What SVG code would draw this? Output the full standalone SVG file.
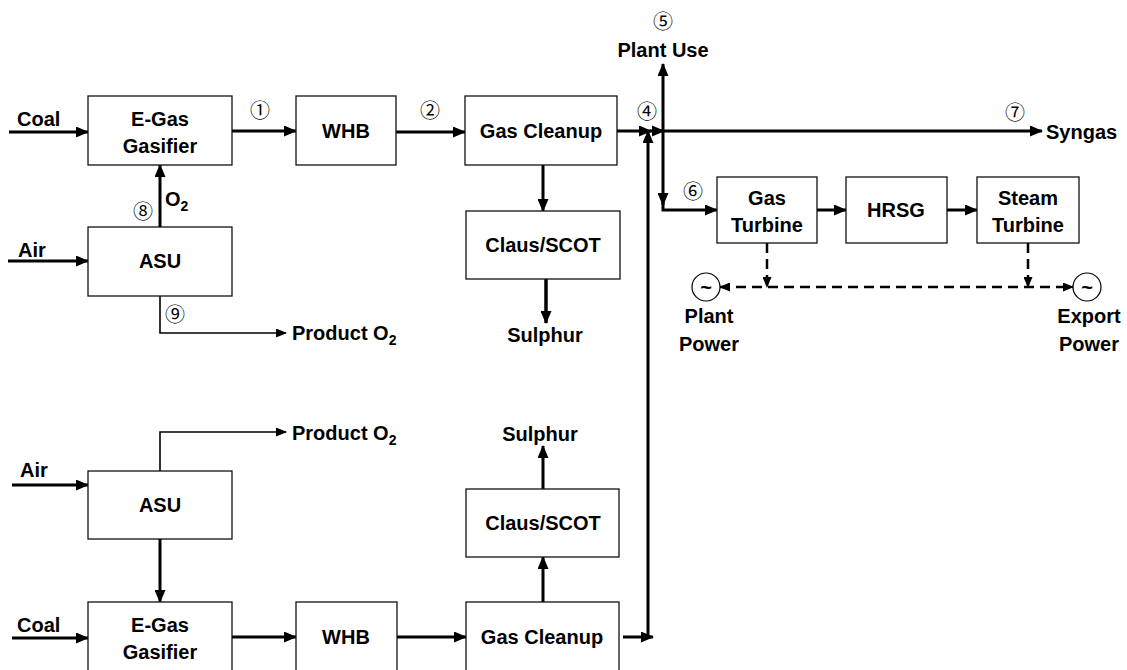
<svg xmlns="http://www.w3.org/2000/svg" width="1127" height="670" viewBox="0 0 1127 670">
<style>
.box{fill:#fff;stroke:#111;stroke-width:1.3}
.t{font-family:"Liberation Sans",Arial,sans-serif;font-weight:bold;font-size:20px;fill:#000;text-anchor:middle}
.l{font-family:"Liberation Sans",Arial,sans-serif;font-weight:bold;font-size:20px;fill:#000}
.n{font-family:"Noto Sans CJK JP","Noto Sans CJK SC",sans-serif;font-size:20px;fill:#000;text-anchor:middle}
.a{fill:none;stroke:#000;stroke-width:3}
.th{fill:none;stroke:#000;stroke-width:1.6}
.d{fill:none;stroke:#000;stroke-width:2.5;stroke-dasharray:10 6}
.g{fill:#fff;stroke:#000;stroke-width:1.2}
</style>
<defs>
<marker id="ah" markerUnits="userSpaceOnUse" markerWidth="13" markerHeight="11" refX="12" refY="5.5" orient="auto-start-reverse" viewBox="0 0 13 11"><path d="M0,0 L13,5.5 L0,11 z" fill="#000"/></marker>
<marker id="as" markerUnits="userSpaceOnUse" markerWidth="11" markerHeight="9" refX="10" refY="4.5" orient="auto-start-reverse" viewBox="0 0 11 9"><path d="M0,0 L11,4.5 L0,9 z" fill="#000"/></marker>
</defs>

<g id="connectors">
<line class="a" x1="9" y1="132" x2="88" y2="132" marker-end="url(#ah)"/>
<line class="a" x1="232" y1="131" x2="296" y2="131" marker-end="url(#ah)"/>
<line class="a" x1="396" y1="132" x2="465" y2="132" marker-end="url(#ah)"/>
<line class="a" x1="617" y1="131" x2="651" y2="131" marker-end="url(#ah)"/>
<line class="a" x1="650" y1="131" x2="1042" y2="131" marker-end="url(#ah)"/>
<path d="M652,125.5 L665,131 L652,136.5 z" fill="#000"/>
<line class="a" x1="663" y1="131" x2="663" y2="64" marker-end="url(#ah)"/>
<line class="a" x1="663" y1="131" x2="663" y2="205" marker-end="url(#ah)"/>
<path class="a" d="M663,200 V210 H717" marker-end="url(#ah)"/>
<line class="a" x1="817" y1="210" x2="846" y2="210" marker-end="url(#ah)"/>
<line class="a" x1="947" y1="210" x2="977" y2="210" marker-end="url(#ah)"/>
<line class="a" x1="543" y1="165" x2="543" y2="211" marker-end="url(#ah)"/>
<line class="a" style="stroke-width:3.5" x1="546" y1="279" x2="546" y2="323" marker-end="url(#ah)"/>
<line class="a" x1="160" y1="227" x2="160" y2="165" marker-end="url(#ah)"/>
<line class="a" x1="8" y1="261" x2="88" y2="261" marker-end="url(#ah)"/>
<path class="th" d="M160,296 V333 H286" marker-end="url(#as)"/>
<path class="th" d="M160,471 V432 H286" marker-end="url(#as)"/>
<line class="a" x1="12" y1="485" x2="88" y2="485" marker-end="url(#ah)"/>
<line class="a" x1="160" y1="539" x2="160" y2="602" marker-end="url(#ah)"/>
<line class="a" x1="12" y1="638" x2="88" y2="638" marker-end="url(#ah)"/>
<line class="a" x1="232" y1="637" x2="296" y2="637" marker-end="url(#ah)"/>
<line class="a" x1="397" y1="637" x2="466" y2="637" marker-end="url(#ah)"/>
<line class="a" x1="543" y1="602" x2="543" y2="557" marker-end="url(#ah)"/>
<line class="a" x1="543" y1="489" x2="543" y2="446" marker-end="url(#ah)"/>
<line class="a" x1="623" y1="637" x2="653" y2="637" marker-end="url(#ah)"/>
<line class="a" x1="648" y1="639" x2="648" y2="131" marker-end="url(#ah)"/>
<line class="d" x1="767" y1="243" x2="767" y2="287" marker-end="url(#as)"/>
<line class="d" x1="1028" y1="243" x2="1028" y2="287" marker-end="url(#as)"/>
<line class="d" x1="720" y1="287" x2="1073" y2="287" marker-start="url(#as)" marker-end="url(#as)"/>
</g>

<g id="gasifier1"><rect class="box" x="88" y="96" width="144" height="69"/><text class="t" x="160" y="126">E-Gas</text><text class="t" x="160" y="153">Gasifier</text></g>
<g id="whb1"><rect class="box" x="296" y="96" width="100" height="69"/><text class="t" x="346" y="138">WHB</text></g>
<g id="cleanup1"><rect class="box" x="465" y="96" width="152" height="69"/><text class="t" x="541" y="138">Gas Cleanup</text></g>
<g id="claus1"><rect class="box" x="466" y="211" width="154" height="68"/><text class="t" x="543" y="252">Claus/SCOT</text></g>
<g id="asu1"><rect class="box" x="88" y="227" width="144" height="69"/><text class="t" x="160" y="268">ASU</text></g>
<g id="gt"><rect class="box" x="717" y="177" width="100" height="66"/><text class="t" x="767" y="205">Gas</text><text class="t" x="767" y="232">Turbine</text></g>
<g id="hrsg"><rect class="box" x="846" y="177" width="101" height="66"/><text class="t" x="896" y="217">HRSG</text></g>
<g id="st"><rect class="box" x="977" y="177" width="102" height="66"/><text class="t" x="1028" y="205">Steam</text><text class="t" x="1028" y="232">Turbine</text></g>
<g id="gen1"><circle class="g" cx="706" cy="287" r="14"/><text class="t" x="706" y="294">~</text></g>
<g id="gen2"><circle class="g" cx="1087" cy="287" r="14"/><text class="t" x="1087" y="294">~</text></g>

<g id="asu2"><rect class="box" x="88" y="471" width="144" height="68"/><text class="t" x="160" y="512">ASU</text></g>
<g id="gasifier2"><rect class="box" x="88" y="602" width="144" height="70"/><text class="t" x="160" y="632">E-Gas</text><text class="t" x="160" y="659">Gasifier</text></g>
<g id="whb2"><rect class="box" x="296" y="602" width="101" height="70"/><text class="t" x="346" y="644">WHB</text></g>
<g id="cleanup2"><rect class="box" x="466" y="602" width="153" height="70"/><text class="t" x="542" y="644">Gas Cleanup</text></g>
<g id="claus2"><rect class="box" x="466" y="489" width="153" height="68"/><text class="t" x="543" y="530">Claus/SCOT</text></g>

<g id="labels">
<text class="l" x="17" y="126">Coal</text>
<text class="l" x="18" y="257">Air</text>
<text class="l" x="165" y="206">O<tspan font-size="14" dy="5">2</tspan></text>
<text class="l" x="292" y="340">Product O<tspan font-size="14" dy="5">2</tspan></text>
<text class="t" x="545" y="342">Sulphur</text>
<text class="t" x="663" y="57">Plant Use</text>
<text class="l" x="1046" y="139">Syngas</text>
<text class="t" x="709" y="323">Plant</text>
<text class="t" x="709" y="351">Power</text>
<text class="t" x="1089" y="323">Export</text>
<text class="t" x="1089" y="351">Power</text>
<text class="l" x="292" y="440">Product O<tspan font-size="14" dy="5">2</tspan></text>
<text class="l" x="20" y="477">Air</text>
<text class="l" x="17" y="632">Coal</text>
<text class="t" x="540" y="441">Sulphur</text>
<text class="n" x="260" y="118">①</text>
<text class="n" x="430" y="118">②</text>
<text class="n" x="647" y="119">④</text>
<text class="n" x="663" y="29">⑤</text>
<text class="n" x="693" y="199">⑥</text>
<text class="n" x="1015" y="120">⑦</text>
<text class="n" x="143" y="219">⑧</text>
<text class="n" x="175" y="322">⑨</text>
</g>
</svg>
